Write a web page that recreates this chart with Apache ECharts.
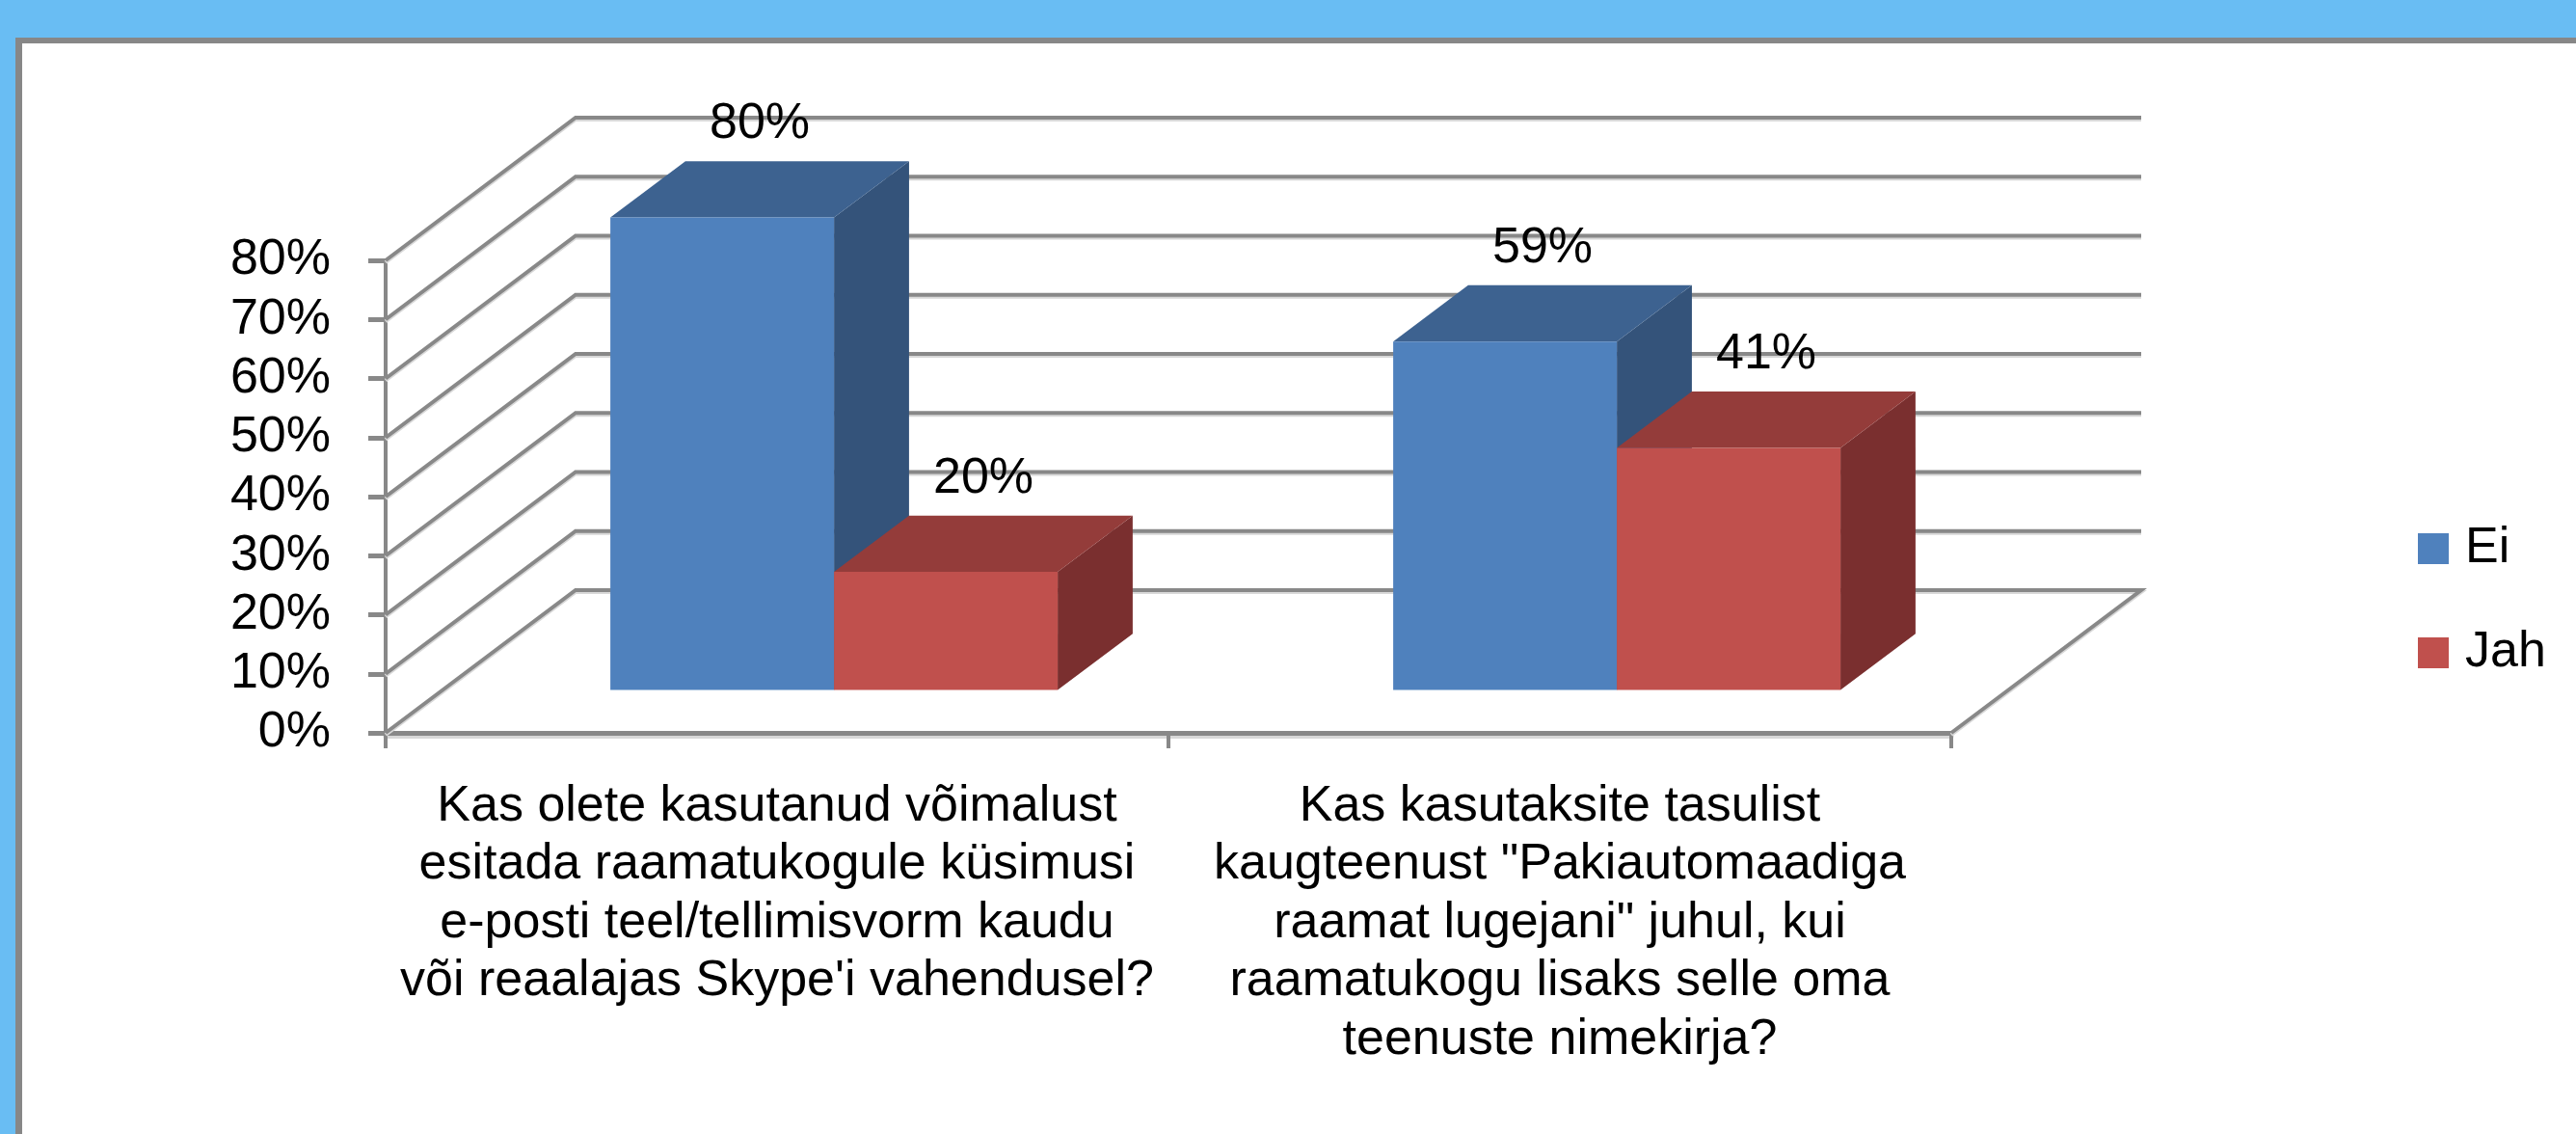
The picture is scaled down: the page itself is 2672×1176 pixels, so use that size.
<!DOCTYPE html>
<html>
<head>
<meta charset="utf-8">
<script src="https://cdn.jsdelivr.net/npm/echarts@6/dist/echarts.min.js"></script>
<style>
html,body{margin:0;padding:0;background:#69BDF3;overflow:hidden;}
#frame{position:absolute;left:16px;top:39px;width:2656px;height:1137px;background:#878787;}
#panel{position:absolute;left:23px;top:45px;width:2649px;height:1131px;background:#ffffff;}
#c{position:absolute;left:0;top:0;width:2672px;height:1176px;}
</style>
</head>
<body>
<div id="frame"></div>
<div id="panel"></div>
<div id="c"></div>
<script>
// ---- data ----
const categories = [
  "Kas olete kasutanud võimalust\nesitada raamatukogule küsimusi\ne-posti teel/tellimisvorm kaudu\nvõi reaalajas Skype'i vahendusel?",
  "Kas kasutaksite tasulist\nkaugteenust \"Pakiautomaadiga\nraamat lugejani\" juhul, kui\nraamatukogu lisaks selle oma\nteenuste nimekirja?"
];
const seriesNames = ["Ei", "Jah"];
const eiValues = [80, 59];
const jahValues = [20, 41];
const yTicks = [0, 10, 20, 30, 40, 50, 60, 70, 80];

// ---- style ----
const FONT = "'Liberation Sans', Arial, sans-serif";
const FS = 52;
const WALL_DX = 197, WALL_DY = 148;     // full depth of the 3D box
const BAR_FRONT = 0.30, BAR_BACK = 0.695; // bar depth position (fraction of full depth)
const BAR_FRAC = 0.2857;                // bar width as fraction of category band
const GRID_COLOR = '#888888';
const palette = [
  {front: '#4F81BD', top: '#3D6290', side: '#34537A'},
  {front: '#C0504D', top: '#943C3A', side: '#7A2F2F'}
];

function wallRender(params, api) {
  const v = api.value(1);
  const bw = api.size([1, 0])[0];
  const p0 = api.coord([0, v]);
  const p1 = api.coord([categories.length - 1, v]);
  const xl = p0[0] - bw / 2, xr = p1[0] + bw / 2, y = p0[1];
  const pts = [[xl, y], [xl + WALL_DX, y - WALL_DY], [xr + WALL_DX, y - WALL_DY]];
  if (v === 0) pts.push([xr, y]);
  return {
    type: 'polyline',
    shape: {points: pts},
    style: {fill: null, stroke: GRID_COLOR, lineWidth: 4, shadowColor: '#d8d8d8', shadowOffsetY: 2, shadowBlur: 0}
  };
}

function makeBarRender(s) {
  return function (params, api) {
    const ci = api.value(0), v = api.value(1);
    const bw = api.size([1, 0])[0];
    const w = bw * BAR_FRAC;
    const c = api.coord([ci, v]);
    const b = api.coord([ci, 0]);
    const x0 = c[0] - w + s * w + BAR_FRONT * WALL_DX;
    const x1 = x0 + w;
    const yt = c[1] - BAR_FRONT * WALL_DY;
    const yb = b[1] - BAR_FRONT * WALL_DY;
    const ddx = (BAR_BACK - BAR_FRONT) * WALL_DX;
    const ddy = (BAR_BACK - BAR_FRONT) * WALL_DY;
    const st = palette[s];
    return {
      type: 'group',
      children: [
        {type: 'polygon', shape: {points: [[x1, yt], [x1 + ddx, yt - ddy], [x1 + ddx, yb - ddy], [x1, yb]]}, style: {fill: st.side}},
        {type: 'polygon', shape: {points: [[x0, yt], [x0 + ddx, yt - ddy], [x1 + ddx, yt - ddy], [x1, yt]]}, style: {fill: st.top}},
        {type: 'rect', shape: {x: x0, y: yt, width: w, height: yb - yt}, style: {fill: st.front}},
        {type: 'text', x: (x0 + x1) / 2 + ddx / 2, y: yt - ddy - 38,
          style: {text: v + '%', fill: '#000', fontSize: FS, fontFamily: FONT, align: 'center', verticalAlign: 'middle'}}
      ]
    };
  };
}

const chart = echarts.init(document.getElementById('c'), null, {renderer: 'canvas'});
chart.setOption({
  animation: false,
  backgroundColor: 'transparent',
  textStyle: {fontFamily: FONT},
  grid: {left: 400, top: 270, width: 1624, height: 490},
  legend: {
    data: seriesNames,
    orient: 'vertical',
    left: 2508, top: 543,
    itemWidth: 32, itemHeight: 32, itemGap: 56,
    icon: 'rect',
    padding: 0,
    textStyle: {fontSize: FS, fontFamily: FONT, color: '#000', lineHeight: 50, padding: [0, 0, 0, 12]}
  },
  xAxis: {
    type: 'category',
    data: categories,
    boundaryGap: true,
    axisLine: {show: true, lineStyle: {color: GRID_COLOR, width: 5, shadowColor: '#d8d8d8', shadowOffsetY: 3}},
    axisTick: {show: true, length: 16, lineStyle: {color: GRID_COLOR, width: 4}},
    axisLabel: {interval: 0, fontSize: FS, fontFamily: FONT, color: '#000', lineHeight: 60.5, margin: 46, align: 'center'},
    splitLine: {show: false}
  },
  yAxis: {
    type: 'value',
    min: 0, max: 80, interval: 10,
    axisLine: {show: true, lineStyle: {color: GRID_COLOR, width: 4}},
    axisTick: {show: true, length: 18, lineStyle: {color: GRID_COLOR, width: 5}},
    axisLabel: {fontSize: FS, fontFamily: FONT, color: '#000', margin: 57, formatter: '{value}%'},
    splitLine: {show: false}
  },
  series: [
    {type: 'custom', name: 'walls', renderItem: wallRender, data: yTicks.map(v => [0, v]), clip: false, z: 1, silent: true},
    {type: 'custom', name: seriesNames[0], renderItem: makeBarRender(0), data: eiValues.map((v, i) => [i, v]), clip: false, z: 3,
      itemStyle: {color: palette[0].front}},
    {type: 'custom', name: seriesNames[1], renderItem: makeBarRender(1), data: jahValues.map((v, i) => [i, v]), clip: false, z: 3,
      itemStyle: {color: palette[1].front}}
  ]
});
</script>
</body>
</html>
